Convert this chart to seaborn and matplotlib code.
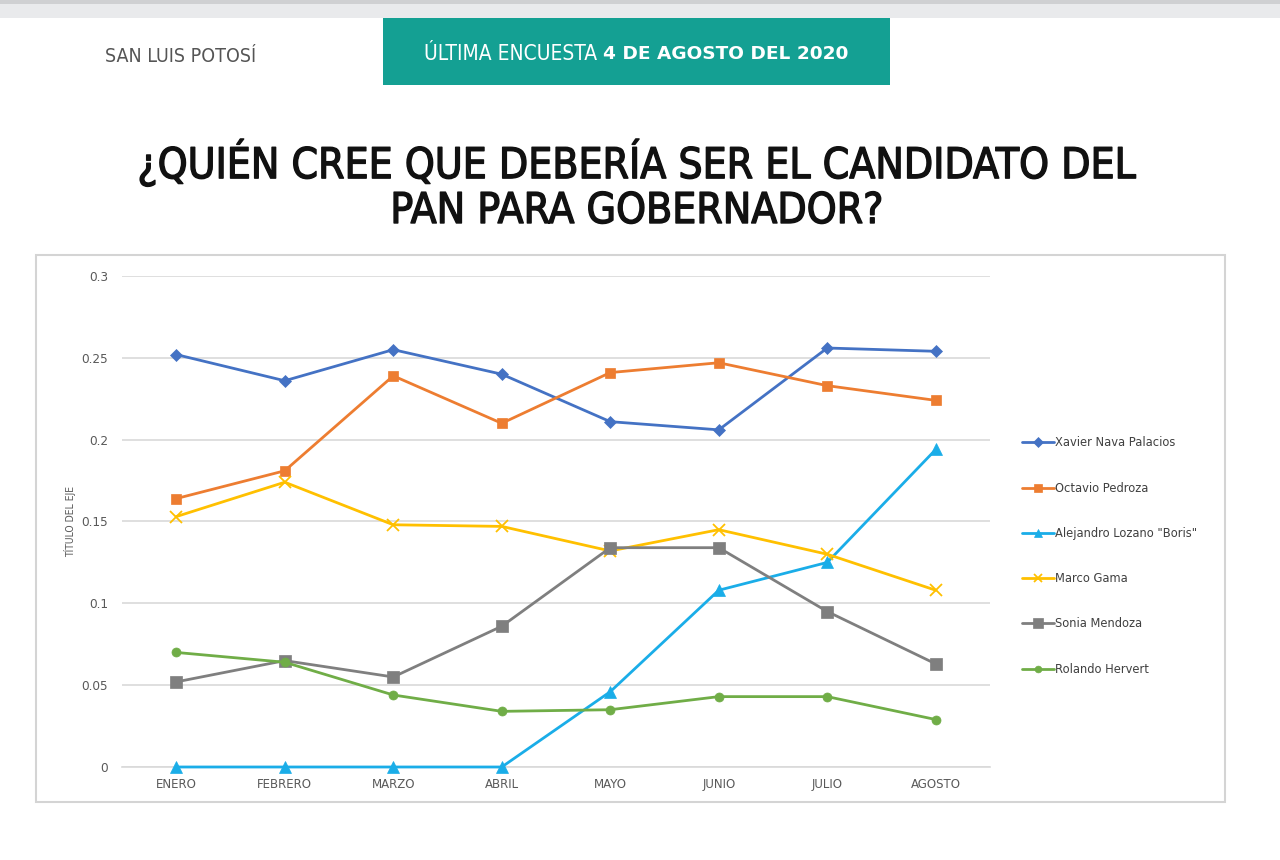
import matplotlib
matplotlib.use("Agg")
import matplotlib.pyplot as plt
import matplotlib.patheffects as pe
import seaborn as sns
import pandas as pd
from matplotlib.patches import Rectangle
from matplotlib.ticker import FuncFormatter, MultipleLocator

meses = ["ENERO", "FEBRERO", "MARZO", "ABRIL", "MAYO", "JUNIO", "JULIO", "AGOSTO"]
candidatos = ["Xavier Nava Palacios", "Octavio Pedroza", 'Alejandro Lozano "Boris"',
              "Marco Gama", "Sonia Mendoza", "Rolando Hervert"]
xavier = [0.252, 0.236, 0.255, 0.240, 0.211, 0.206, 0.256, 0.254]
octavio = [0.164, 0.181, 0.239, 0.210, 0.241, 0.247, 0.233, 0.224]
boris = [0.0, 0.0, 0.0, 0.0, 0.046, 0.108, 0.125, 0.194]
marco = [0.153, 0.174, 0.148, 0.147, 0.132, 0.145, 0.130, 0.108]
sonia = [0.052, 0.065, 0.055, 0.086, 0.134, 0.134, 0.095, 0.063]
rolando = [0.070, 0.064, 0.044, 0.034, 0.035, 0.043, 0.043, 0.029]
series = [xavier, octavio, boris, marco, sonia, rolando]

colores = ["#4472C4", "#ED7D31", "#1AADE8", "#FFC000", "#7F7F7F", "#70AD47"]
marcadores = ["D", "s", "^", "x", "s", "o"]
tamanos = [6.5, 7, 8, 8, 9, 6.5]

sns.set_theme(style="white")
plt.rcParams["font.family"] = ["DejaVu Sans"]

fig = plt.figure(figsize=(12.8, 8.6), dpi=100)
fig.patch.set_facecolor("white")

H = 860.0
W = 1280.0
def fx(px):
    return px / W
def fy(py):
    return 1 - py / H

# top gray bar
fig.patches.append(Rectangle((0, fy(18)), 1, 18 / H, transform=fig.transFigure,
                             facecolor="#e9eaec", edgecolor="none", zorder=0))
fig.patches.append(Rectangle((0, fy(4)), 1, 4 / H, transform=fig.transFigure,
                             facecolor="#cfd0d2", edgecolor="none", zorder=0))
# teal box
fig.patches.append(Rectangle((fx(383), fy(85)), fx(890 - 383), 67 / H, transform=fig.transFigure,
                             facecolor="#14a093", edgecolor="none", zorder=1))
fig.text(fx(105), fy(57), "SAN LUIS POTOSÍ", fontsize=14, color="#555555",
         ha="left", va="center", fontstretch="condensed", fontweight="light")
t1 = fig.text(fx(424), fy(54), "ÚLTIMA ENCUESTA ", fontsize=15, color="white",
              ha="left", va="center", fontstretch="condensed")
fig.canvas.draw()
bb = t1.get_window_extent()
fig.text(bb.x1 / W, fy(54), "4 DE AGOSTO DEL 2020", fontsize=13.3, color="white",
         ha="left", va="center", fontweight="bold")

stroke = [pe.withStroke(linewidth=1.0, foreground="#111111")]
fig.text(fx(637), fy(163), "¿QUIÉN CREE QUE DEBERÍA SER EL CANDIDATO DEL",
         fontsize=30.5, color="#111111", ha="center", va="center", fontstretch="condensed",
         path_effects=stroke)
fig.text(fx(637), fy(211), "PAN PARA GOBERNADOR?",
         fontsize=30.5, color="#111111", ha="center", va="center", fontstretch="condensed",
         path_effects=stroke)

# chart frame
fig.patches.append(Rectangle((fx(36), fy(802)), fx(1225 - 36), (802 - 255) / H,
                             transform=fig.transFigure, facecolor="white",
                             edgecolor="#d4d4d4", linewidth=1.5, zorder=1))

ax = fig.add_axes([fx(122), fy(767), fx(990 - 122), (767 - 276) / H])
ax.set_facecolor("none")
ax.set_zorder(2)

rows = []
for nombre, vals in zip(candidatos, series):
    for i, v in enumerate(vals):
        rows.append({"candidato": nombre, "mes": i, "valor": v})
df = pd.DataFrame(rows)

for nombre, col, mk, ms in zip(candidatos, colores, marcadores, tamanos):
    sub = df[df["candidato"] == nombre]
    sns.lineplot(data=sub, x="mes", y="valor", ax=ax, color=col, marker=mk,
                 markersize=ms, linewidth=2.0, markeredgecolor=col,
                 markeredgewidth=1.3 if mk == "x" else 0.5, label=nombre,
                 sort=False, zorder=3, clip_on=False)

ax.set_xlim(-0.5, 7.5)
ax.set_ylim(0, 0.3)
ax.yaxis.set_major_locator(MultipleLocator(0.05))
ax.yaxis.set_major_formatter(FuncFormatter(lambda v, p: f"{v:.2f}".rstrip("0").rstrip(".") if v != 0 else "0"))
ax.set_xticks(range(len(meses)))
ax.set_xticklabels(meses)
ax.tick_params(axis="x", labelsize=8.5, labelcolor="#595959", length=0, pad=8)
ax.tick_params(axis="y", labelsize=8.7, labelcolor="#595959", length=0, pad=10)
ax.grid(axis="y", color="#d9d9d9", linewidth=1.2)
ax.grid(axis="x", visible=False)
for s in ["top", "right", "left"]:
    ax.spines[s].set_visible(False)
ax.spines["bottom"].set_color("#d9d9d9")
ax.spines["bottom"].set_linewidth(1.2)
ax.set_xlabel("")
ax.set_ylabel("TÍTULO DEL EJE", fontsize=7.5, color="#595959", fontstretch="condensed")
ax.yaxis.set_label_coords((76 - 122) / 868, 0.5)

ax.legend(loc="upper left", bbox_to_anchor=(fx(1012), fy(426)), bbox_transform=fig.transFigure,
          frameon=False, fontsize=8.3, labelspacing=2.8, handlelength=2.7,
          handletextpad=0.1, labelcolor="#404040", markerscale=0.75)

fig.savefig("out.png", dpi=100)
